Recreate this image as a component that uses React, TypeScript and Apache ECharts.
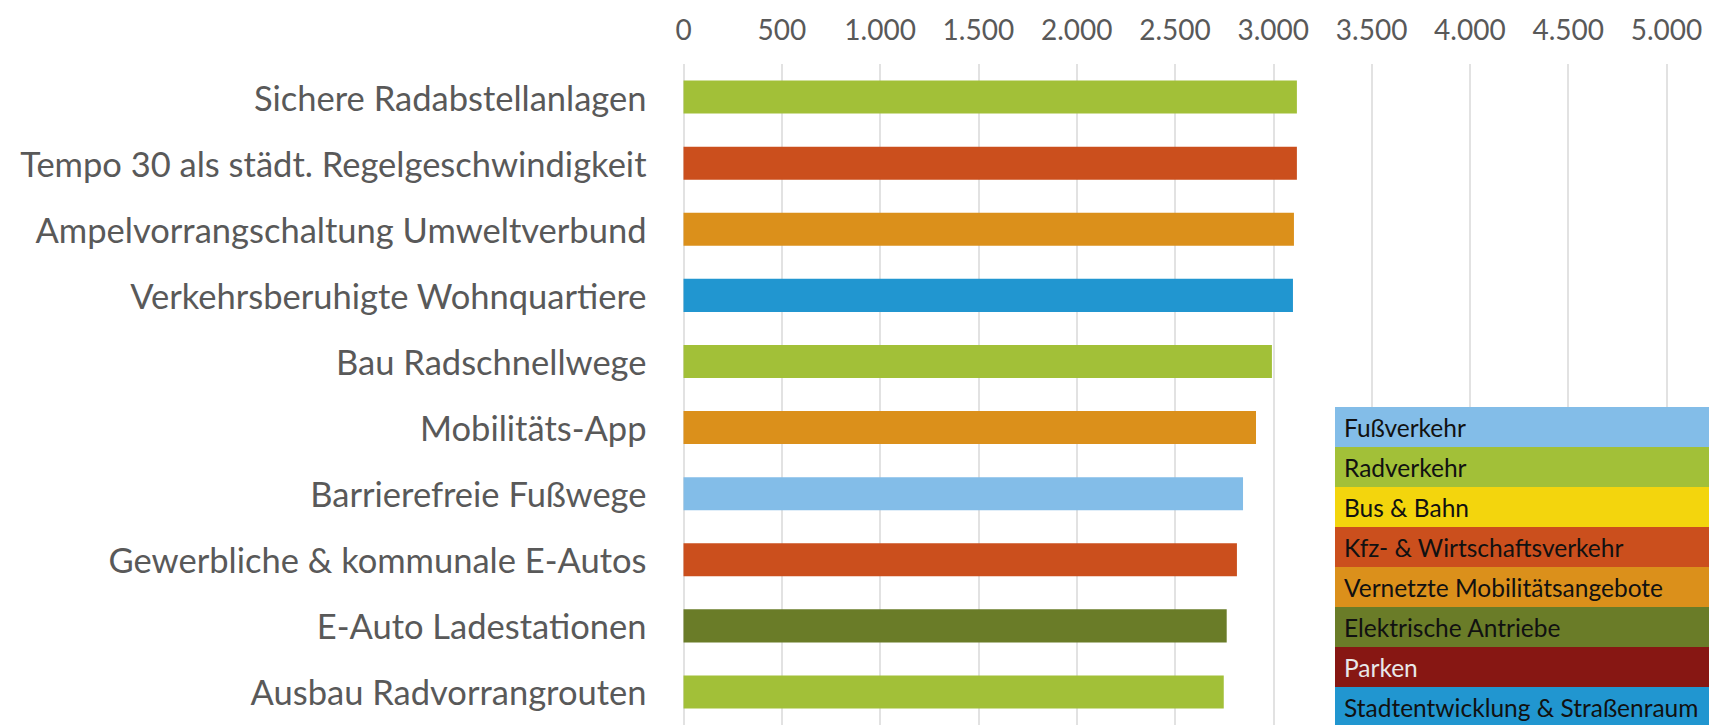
import React, { useEffect, useRef } from "react";
import * as echarts from "echarts";

const categories = [
  "Sichere Radabstellanlagen",
  "Tempo 30 als städt. Regelgeschwindigkeit",
  "Ampelvorrangschaltung Umweltverbund",
  "Verkehrsberuhigte Wohnquartiere",
  "Bau Radschnellwege",
  "Mobilitäts-App",
  "Barrierefreie Fußwege",
  "Gewerbliche & kommunale E-Autos",
  "E-Auto Ladestationen",
  "Ausbau Radvorrangrouten",
];

const values = [3120, 3120, 3105, 3100, 2993, 2912, 2846, 2815, 2763, 2748];

const barGroups = [
  "Radverkehr",
  "Kfz- & Wirtschaftsverkehr",
  "Vernetzte Mobilitätsangebote",
  "Stadtentwicklung & Straßenraum",
  "Radverkehr",
  "Vernetzte Mobilitätsangebote",
  "Fußverkehr",
  "Kfz- & Wirtschaftsverkehr",
  "Elektrische Antriebe",
  "Radverkehr",
];

const legendNames = [
  "Fußverkehr",
  "Radverkehr",
  "Bus & Bahn",
  "Kfz- & Wirtschaftsverkehr",
  "Vernetzte Mobilitätsangebote",
  "Elektrische Antriebe",
  "Parken",
  "Stadtentwicklung & Straßenraum",
];

const legendColors = [
  "#83bde8",
  "#a2c038",
  "#f3d50d",
  "#cb4f1d",
  "#db901b",
  "#6a7c28",
  "#871713",
  "#2196d0",
];

const legendTextColors = ["#111", "#111", "#111", "#111", "#111", "#111", "#e8e8e8", "#111"];

const FONT = "Lato, 'Open Sans', sans-serif";

const fmt = (v: number) => String(v).replace(/\B(?=(\d{3})+(?!\d))/g, ".");

export default function App() {
  const ref = useRef<HTMLDivElement>(null);
  useEffect(() => {
    if (!ref.current) return;
    const chart = echarts.init(ref.current, undefined, { renderer: "svg" });
    const colorOf = (g: string) => legendColors[legendNames.indexOf(g)];

    const legendTop = 407;
    const rowH = 40;
    const legendLeft = 1335;
    const graphics: any[] = [];
    legendNames.forEach((name, i) => {
      graphics.push({
        type: "rect",
        left: legendLeft,
        top: legendTop + i * rowH,
        z: 100,
        shape: { width: 1709 - legendLeft, height: rowH },
        style: { fill: legendColors[i] },
      });
      graphics.push({
        type: "text",
        left: legendLeft + 9,
        top: legendTop + i * rowH + rowH / 2 - 12,
        z: 101,
        style: {
          text: name,
          fill: legendTextColors[i],
          font: `24.5px ${FONT}`,
          textVerticalAlign: "top",
        },
      });
    });

    chart.setOption({
      animation: false,
      backgroundColor: "#ffffff",
      grid: { left: 683.5, right: 42.5, top: 64, bottom: 0, containLabel: false },
      xAxis: {
        type: "value",
        position: "top",
        min: 0,
        max: 5000,
        interval: 500,
        axisLine: { show: false },
        axisTick: { show: false },
        axisLabel: {
          formatter: (v: number) => fmt(v),
          color: "#595959",
          fontFamily: FONT,
          fontSize: 28,
          margin: 21,
        },
        splitLine: { show: true, lineStyle: { color: "#d9d9d9", width: 1.5 } },
      },
      yAxis: {
        type: "category",
        inverse: true,
        data: categories,
        axisLine: { show: false },
        axisTick: { show: false },
        axisLabel: {
          color: "#595959",
          fontFamily: FONT,
          fontSize: 34.5,
          margin: 37,
        },
      },
      series: [
        {
          type: "bar",
          barCategoryGap: "50%",
          data: values.map((v, i) => ({ value: v, itemStyle: { color: colorOf(barGroups[i]) } })),
        },
      ],
      graphic: graphics,
    });
    return () => chart.dispose();
  }, []);
  return (
    <div
      ref={ref}
      style={{ position: "fixed", left: 0, top: 0, width: 1709, height: 725 }}
    />
  );
}
